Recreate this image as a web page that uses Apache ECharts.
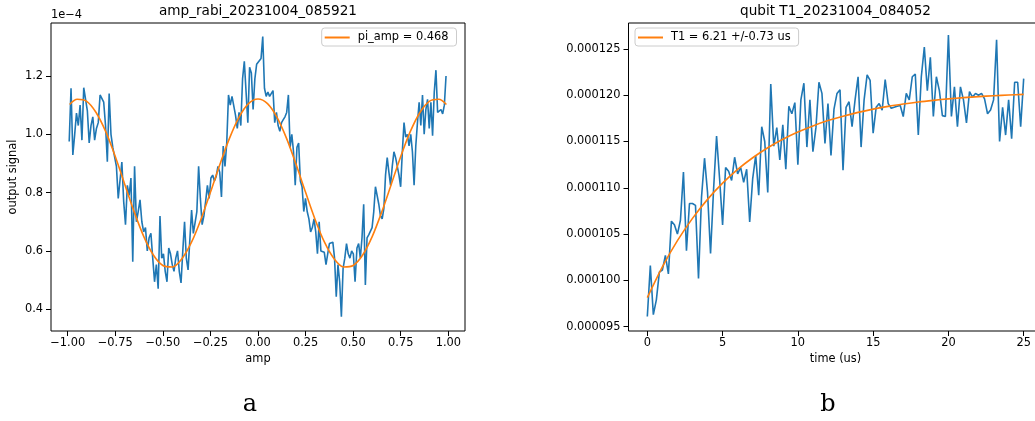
<!DOCTYPE html>
<html><head><meta charset="utf-8">
<script src="https://cdn.jsdelivr.net/npm/echarts@6/dist/echarts.min.js"></script>
<style>html,body{margin:0;padding:0;background:#fff;overflow:hidden;width:1035px;height:421px}#c{width:1050px;height:421px}</style>
</head><body><div id="c"></div><script>
// ---------- data ----------
const rabiTitle = 'amp_rabi_20231004_085921';
const t1Title = 'qubit T1_20231004_084052';
const rabiFitLabel = 'pi_amp = 0.468';
const t1FitLabel = 'T1 = 6.21 +/-0.73 us';
// measured output signal (units of 1e-4), read in four amp segments
const rabiSegA = [-0.992, -0.515];
const rabiSignalA = [
 0.975,1.158,0.929,0.998,1.073,1.03,1.10,0.98,1.16,1.16,
 1.08,0.97,1.03,1.06,0.98,1.02,1.04,1.135,1.135,1.11,
 1.03,0.906,1.14,1.0,0.955,0.96,0.89,0.78,0.78,0.905,
 0.77,0.69,0.825,0.79,0.85,0.563,0.89,0.70,0.735,0.775,
 0.70,0.665,0.68,0.60,0.645,0.66,0.575,0.494,0.553,0.47,
 0.72];
const rabiSegB = [-0.506, 0.002];
const rabiSignalB = [
 0.575,0.59,0.53,0.494,0.61,0.59,0.553,0.53,0.575,0.60,
 0.53,0.49,0.60,0.70,0.575,0.535,0.535,0.74,0.66,0.665,
 0.735,0.89,0.78,0.69,0.72,0.77,0.825,0.78,0.85,0.86,
 0.84,0.855,0.89,0.87,0.785,0.96,0.89,0.97,1.135,1.10,
 1.13,1.13,1.065,1.02,1.075,1.03,1.19,1.25,1.145,1.04,
 1.23,1.21,1.085,1.19,1.24,1.235];
const rabiSegC = [0.016, 0.510];
const rabiSignalC = [
 1.26,1.335,1.158,1.13,1.145,1.13,1.135,1.15,1.04,1.075,
 1.03,1.01,1.04,1.05,1.06,1.075,1.135,0.955,1.0,0.94,
 0.825,0.955,0.97,0.84,0.82,0.735,0.78,0.735,0.71,0.665,
 0.68,0.71,0.665,0.59,0.70,0.60,0.60,0.595,0.553,0.59,
 0.625,0.62,0.63,0.575,0.443,0.553,0.494,0.374,0.54,0.575,
 0.625,0.59,0.575,0.60,0.59,0.494];
const rabiSegD = [0.520, 0.988];
const rabiSignalD = [
 0.61,0.625,0.575,0.645,0.76,0.483,0.645,0.655,0.655,0.68,
 0.735,0.82,0.79,0.76,0.72,0.71,0.745,0.86,0.92,0.87,
 0.825,0.89,0.94,0.92,0.89,0.86,0.82,0.94,1.04,0.99,
 1.0,0.96,1.0,0.94,0.825,0.96,1.04,1.11,1.03,1.135,
 1.0,1.085,1.12,1.02,1.11,0.995,1.145,1.22,1.075,1.07,
 1.085,1.07,1.10,1.20];
const rabiFitAmp = [-0.99,-0.95,-0.9,-0.85,-0.8,-0.75,-0.7,-0.65,-0.6,-0.55,-0.5,-0.45,-0.4,-0.35,-0.3,-0.25,-0.2,-0.15,-0.1,-0.05,0,
 0.05,0.1,0.15,0.2,0.25,0.3,0.35,0.4,0.45,0.5,0.55,0.6,0.65,0.7,0.75,0.8,0.85,0.9,0.95,0.99];
const rabiFitSignal = [1.102,1.120,1.113,1.074,1.009,0.924,0.828,0.733,0.649,0.586,0.550,0.545,0.573,0.629,0.708,0.801,0.897,0.986,1.058,1.105,1.121,
 1.105,1.058,0.986,0.897,0.801,0.708,0.629,0.573,0.545,0.550,0.586,0.649,0.733,0.828,0.924,1.009,1.074,1.113,1.120,1.102];
const rabiXTicks = [-1,-0.75,-0.5,-0.25,0,0.25,0.5,0.75,1];
const rabiYTicks = [0.4,0.6,0.8,1.0,1.2];

// T1 measurement: signal in units of 1e-6, time 0..25 us every 0.2 us
const t1Step = 0.2;
const t1Signal = [
 96.1,101.6,96.3,97.9,100.9,101.1,102.7,100.7,106.4,106.0,105.0,106.5,111.7,103.2,108.3,108.3,108.1,100.2,109.0,
 113.2,109.5,102.9,109.8,115.6,111.0,106.0,112.2,111.8,110.8,113.3,111.5,112.2,110.6,112.0,106.3,111.0,113.5,109.2,116.6,115.0,109.5,121.2,114.5,116.5,113.0,116.8,112.0,118.8,118.0,119.2,112.5,119.5,
 121.3,114.4,119.5,113.9,116.5,121.4,120.2,114.8,119.1,113.5,118.5,
 120.2,120.6,111.9,118.7,119.3,116.6,119.5,122.0,114.4,119.5,122.2,121.6,115.9,118.7,119.1,118.4,121.7,119.1,118.6,118.7,
 118.8,118.9,117.7,120.2,119.5,122.0,122.3,115.7,122.0,125.2,120.5,124.1,117.7,122.0,120.5,117.8,117.7,126.5,117.7,120.9,
 116.6,120.9,119.5,117.0,120.4,119.8,120.2,120.0,120.2,119.6,118.0,118.4,119.5,126.0,115.0,118.7,115.7,119.5,115.3,121.4,
 121.4,116.6,121.8
];
const t1FitTime = [0,1,2,3,4,5,6,7,8,9,10,11,12,13,14,15,16,17,18,19,20,21,22,23,24,25];
const t1FitSignal = [98.13,101.46,104.29,106.70,108.75,110.50,111.99,113.25,114.33,115.25,116.03,116.69,117.26,117.74,118.15,118.50,118.80,119.05,119.27,119.45,119.61,119.74,119.85,119.95,120.03,120.10];
const t1XTicks = [0,5,10,15,20,25];
const t1YTicks = [95,100,105,110,115,120,125];

// ---------- build ----------
function segPoints(range, ys) {
  const n = ys.length;
  return ys.map((y, i) => [range[0] + i * (range[1] - range[0]) / (n - 1), y]);
}
const rabiPoints = [].concat(
  segPoints(rabiSegA, rabiSignalA), segPoints(rabiSegB, rabiSignalB),
  segPoints(rabiSegC, rabiSignalC), segPoints(rabiSegD, rabiSignalD));
const t1Time = t1Signal.map((_, i) => +(i * t1Step).toFixed(1));
const zip = (xs, ys) => xs.map((x, i) => [x, ys[i]]);

const FONT = 'DejaVu Sans';
const FS = 11.4;
const BLUE = '#1f77b4', ORANGE = '#ff7f0e';
const txt = { color: '#000', fontFamily: FONT, fontSize: FS };
const minus = s => s.replace('-', '\u2212');

function axisCommon(ticks, fmt, margin) {
  return {
    axisLine: { show: false, onZero: false },
    splitLine: { show: false },
    axisTick: { show: true, inside: false, length: 5, customValues: ticks, lineStyle: { color: '#000', width: 1 } },
    axisLabel: Object.assign({ customValues: ticks, formatter: fmt, margin: margin }, txt)
  };
}

const chart = echarts.init(document.getElementById('c'), null, { renderer: 'canvas' });
chart.setOption({
  animation: false,
  backgroundColor: '#fff',
  grid: [
    { left: 51, top: 23, width: 414, height: 308, show: true, borderColor: '#000', borderWidth: 1, backgroundColor: 'transparent', containLabel: false },
    { left: 628.5, top: 23, width: 414, height: 308, show: true, borderColor: '#000', borderWidth: 1, backgroundColor: 'transparent', containLabel: false }
  ],
  xAxis: [
    Object.assign({ type: 'value', gridIndex: 0, min: -1.0877, max: 1.0877,
      name: 'amp', nameLocation: 'middle', nameGap: 23, nameTextStyle: txt },
      axisCommon(rabiXTicks, v => minus(v.toFixed(2)), 7)),
    Object.assign({ type: 'value', gridIndex: 1, min: -1.25, max: 26.25,
      name: 'time (us)', nameLocation: 'middle', nameGap: 23, nameTextStyle: txt },
      axisCommon(t1XTicks, v => String(v), 7))
  ],
  yAxis: [
    Object.assign({ type: 'value', gridIndex: 0, min: 0.3252, max: 1.3818,
      name: 'output signal', nameLocation: 'middle', nameGap: 32, nameTextStyle: txt },
      axisCommon(rabiYTicks, v => v.toFixed(1), 8)),
    Object.assign({ type: 'value', gridIndex: 1, min: 94.53, max: 127.806 },
      axisCommon(t1YTicks, v => (v * 1e-6).toFixed(6), 8))
  ],
  legend: [
    { left: 321.7, top: 28, selectedMode: false, data: [{ name: rabiFitLabel, icon: 'rect' }],
      itemWidth: 25, itemHeight: 2, padding: [4, 8, 3, 3],
      backgroundColor: 'rgba(255,255,255,0.8)', borderColor: '#cccccc', borderWidth: 1, borderRadius: 3,
      textStyle: Object.assign({ padding: [0, 0, 0, 3] }, txt) },
    { left: 635, top: 28, selectedMode: false, data: [{ name: t1FitLabel, icon: 'rect' }],
      itemWidth: 25, itemHeight: 2, padding: [4, 8, 3, 3],
      backgroundColor: 'rgba(255,255,255,0.8)', borderColor: '#cccccc', borderWidth: 1, borderRadius: 3,
      textStyle: Object.assign({ padding: [0, 0, 0, 3] }, txt) }
  ],
  series: [
    { type: 'line', name: 'rabi data', xAxisIndex: 0, yAxisIndex: 0, data: rabiPoints,
      symbol: 'none', color: BLUE, lineStyle: { color: BLUE, width: 1.6 } },
    { type: 'line', name: rabiFitLabel, xAxisIndex: 0, yAxisIndex: 0, data: zip(rabiFitAmp, rabiFitSignal),
      symbol: 'none', smooth: 0.3, color: ORANGE, lineStyle: { color: ORANGE, width: 1.6 } },
    { type: 'line', name: 't1 data', xAxisIndex: 1, yAxisIndex: 1, data: zip(t1Time, t1Signal),
      symbol: 'none', color: BLUE, lineStyle: { color: BLUE, width: 1.6 } },
    { type: 'line', name: t1FitLabel, xAxisIndex: 1, yAxisIndex: 1, data: zip(t1FitTime, t1FitSignal),
      symbol: 'none', smooth: 0.3, color: ORANGE, lineStyle: { color: ORANGE, width: 1.6 } }
  ],
  graphic: [
    { type: 'text', x: 258, y: 11, style: { text: rabiTitle, textAlign: 'center', textVerticalAlign: 'middle', fill: '#000', font: '13.6px "DejaVu Sans"' } },
    { type: 'text', x: 835.5, y: 11, style: { text: t1Title, textAlign: 'center', textVerticalAlign: 'middle', fill: '#000', font: '13.6px "DejaVu Sans"' } },
    { type: 'text', x: 51, y: 15, style: { text: '1e\u22124', textAlign: 'left', textVerticalAlign: 'middle', fill: '#000', font: FS + 'px "DejaVu Sans"' } },
    { type: 'text', x: 250, y: 405, style: { text: 'a', textAlign: 'center', textVerticalAlign: 'middle', fill: '#000', font: '24px "DejaVu Serif"' } },
    { type: 'text', x: 828, y: 405, style: { text: 'b', textAlign: 'center', textVerticalAlign: 'middle', fill: '#000', font: '24px "DejaVu Serif"' } }
  ]
});
</script></body></html>
